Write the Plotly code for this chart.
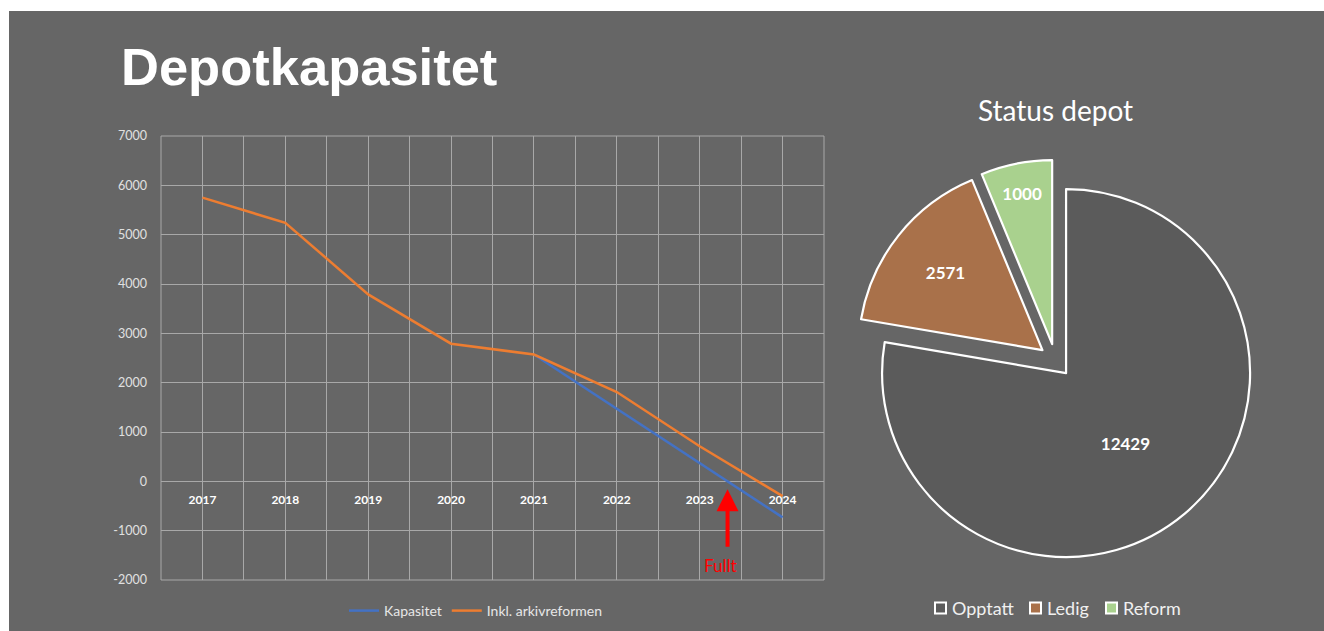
import plotly.graph_objects as go

# --- data -------------------------------------------------------------
years = [2017, 2018, 2019, 2020, 2021, 2022, 2023, 2024]
inkl_reform = [5750, 5240, 3790, 2790, 2571, 1810, 710, -300]
kapasitet_years = [2021, 2022, 2023, 2024]
kapasitet = [2571, 1470, 370, -730]

pie_labels = ["Opptatt", "Ledig", "Reform"]
pie_values = [12429, 2571, 1000]
pie_colors = ["#5b5b5b", "#a9714a", "#a9d18e"]

y_ticks = [7000, 6000, 5000, 4000, 3000, 2000, 1000, 0, -1000, -2000]

# --- styling ----------------------------------------------------------
W, H = 1324, 631
BG = "#666666"
GRID = "#a8a8a8"
LABEL_FONT = "Lato"

# line chart plot area in pixels
PX_L, PX_R, PX_T, PX_B = 161, 824, 136, 580
Y_MIN, Y_MAX = -2000, 7000
X_MIN, X_MAX = years[0] - 0.5, years[-1] + 0.5

# pie geometry in pixels
PIE_CX, PIE_CY, PIE_R, PIE_PULL = 1055.4, 360.4, 184, 0.09

# custom pie legend: square left edge per entry, row centre
PIE_LEG_X = [935, 1030, 1106]
PIE_LEG_Y = 608
PIE_LEG_BOX = 11


def px_x(px):
    return px / W


def px_y(py):
    return 1 - py / H


fig = go.Figure()

fig.add_trace(go.Scatter(
    x=kapasitet_years, y=kapasitet, mode="lines", name="Kapasitet",
    line=dict(color="#4472c4", width=2.5),
))
fig.add_trace(go.Scatter(
    x=years, y=inkl_reform, mode="lines", name="Inkl. arkivreformen",
    line=dict(color="#ed7d31", width=2.5),
))

half = PIE_R * (1 + PIE_PULL)
fig.add_trace(go.Pie(
    labels=pie_labels, values=pie_values, sort=False, direction="clockwise",
    rotation=0, pull=[PIE_PULL] * len(pie_values),
    marker=dict(colors=pie_colors, line=dict(color="white", width=2.2)),
    texttemplate="<b>%{value:.0f}</b>", textposition="inside",
    insidetextorientation="horizontal",
    textfont=dict(family=LABEL_FONT, size=17, color="white"),
    domain=dict(x=[px_x(PIE_CX - half), px_x(PIE_CX + half)],
                y=[px_y(PIE_CY + half), px_y(PIE_CY - half)]),
    showlegend=False, hoverinfo="label+value",
))

# zero crossing of the Kapasitet series (the depot is full)
x_full = None
for i in range(len(kapasitet) - 1):
    a, b = kapasitet[i], kapasitet[i + 1]
    if a >= 0 > b:
        x_full = kapasitet_years[i] + a / (a - b)

# vertical gridlines every half year, labels on whole years
grid_vals = [X_MIN + 0.5 * k for k in range(int((X_MAX - X_MIN) / 0.5) + 1)]
grid_text = [str(int(v)) if float(v).is_integer() else "" for v in grid_vals]

zero_px = PX_B - (0 - Y_MIN) / (Y_MAX - Y_MIN) * (PX_B - PX_T)

shapes = [
    dict(type="rect", xref="paper", yref="paper", layer="below",
         x0=px_x(9), x1=1, y0=0, y1=px_y(11),
         fillcolor=BG, line=dict(width=0)),
    # outer frame of the grid (edge gridlines are clipped by plotly)
    dict(type="rect", xref="x domain", yref="y domain", layer="below",
         x0=0, x1=1, y0=0, y1=1, line=dict(color=GRID, width=1)),
]
annotations = [
    dict(text="<b>Depotkapasitet</b>", xref="paper", yref="paper",
         x=px_x(119), y=px_y(66), xanchor="left", yanchor="middle",
         showarrow=False,
         font=dict(family="Liberation Sans", size=52.5, color="white")),
    dict(text="Status depot", xref="paper", yref="paper",
         x=px_x(1055), y=px_y(110), xanchor="center", yanchor="middle",
         showarrow=False,
         font=dict(family=LABEL_FONT, size=28, color="white")),
    dict(text="", x=x_full, y=0, xref="x", yref="y",
         showarrow=True, ax=0, ay=67, axref="pixel", ayref="pixel",
         arrowcolor="#ff0000", arrowwidth=4, arrowhead=2, arrowsize=1.1,
         standoff=8),
    dict(text="Fullt", x=x_full, y=0, xref="x", yref="y",
         xshift=-7, yshift=-84, showarrow=False,
         font=dict(family=LABEL_FONT, size=17, color="#ff0000")),
]

# pie legend: white-framed squares with the slice colour, then the label
for lbl, col, lx in zip(pie_labels, pie_colors, PIE_LEG_X):
    shapes.append(dict(
        type="rect", xref="paper", yref="paper",
        x0=px_x(lx), x1=px_x(lx + PIE_LEG_BOX),
        y0=px_y(PIE_LEG_Y + PIE_LEG_BOX / 2), y1=px_y(PIE_LEG_Y - PIE_LEG_BOX / 2),
        fillcolor=col, line=dict(color="white", width=2),
    ))
    annotations.append(dict(
        text=lbl, xref="paper", yref="paper",
        x=px_x(lx + PIE_LEG_BOX + 4), y=px_y(PIE_LEG_Y),
        xanchor="left", yanchor="middle", showarrow=False,
        font=dict(family=LABEL_FONT, size=18, color="#f0f0f0"),
    ))

fig.update_layout(
    width=W, height=H,
    margin=dict(l=0, r=0, t=0, b=0, pad=0, autoexpand=False),
    paper_bgcolor="white", plot_bgcolor="rgba(0,0,0,0)",
    showlegend=True,
    xaxis=dict(
        domain=[px_x(PX_L), px_x(PX_R)], range=[X_MIN, X_MAX],
        tickmode="array", tickvals=grid_vals, ticktext=grid_text,
        showgrid=True, gridcolor=GRID, gridwidth=1, zeroline=False,
        showline=False, ticks="", anchor="free", position=px_y(zero_px),
        tickfont=dict(family=LABEL_FONT, size=12, color="white", weight="bold"),
        ticklabelstandoff=10, fixedrange=True, automargin=False,
    ),
    yaxis=dict(
        domain=[px_y(PX_B), px_y(PX_T)], range=[Y_MIN, Y_MAX],
        tickmode="array", tickvals=y_ticks, ticktext=[str(v) for v in y_ticks],
        showgrid=True, gridcolor=GRID, gridwidth=1,
        zeroline=True, zerolinecolor=GRID, zerolinewidth=1,
        showline=False, ticks="",
        tickfont=dict(family=LABEL_FONT, size=12.5, color="#e0e0e0"),
        ticklabelstandoff=13, fixedrange=True, automargin=False,
    ),
    legend=dict(
        orientation="h", x=px_x(476), y=px_y(611), xanchor="center",
        yanchor="middle", bgcolor="rgba(0,0,0,0)",
        font=dict(family=LABEL_FONT, size=14, color="#e6e6e6"),
        itemwidth=30,
    ),
    shapes=shapes,
    annotations=annotations,
)

fig.write_html("out.html")
